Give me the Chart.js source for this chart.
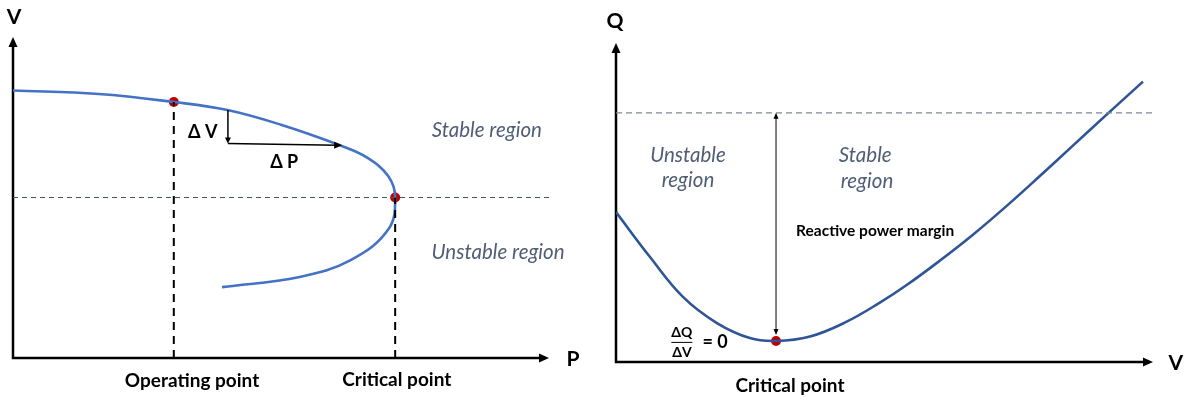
<!DOCTYPE html>
<html>
<head>
<meta charset="utf-8">
<script src="https://cdn.jsdelivr.net/npm/chart.js@4.4.1/dist/chart.umd.min.js"></script>
<style>
  body { margin: 0; background: #fff; width: 1189px; height: 398px; position: relative; overflow: hidden; }
  canvas { position: absolute; top: 0; }
  #pvChart { left: 0; }
  #qvChart { left: 590px; }
</style>
</head>
<body>
<canvas id="pvChart" width="595" height="398"></canvas>
<canvas id="qvChart" width="599" height="398"></canvas>
<script>
// P-V nose curve (left), arbitrary units
const pvP = [0, 1.6, 3.0, 4.0, 5.0, 6.1, 6.6, 7.0, 7.13, 7.0, 6.3, 5.35, 3.9];
const pvV = [1.0, 0.987, 0.957, 0.927, 0.872, 0.795, 0.75, 0.68, 0.6, 0.48, 0.366, 0.303, 0.265];
const pvMarkP = [3.0, 7.13];   // operating point, critical point
const pvMarkV = [0.957, 0.6];

// Q-V curve (right)
const qvV = [0, 0.095, 0.187, 0.282, 0.374, 0.447, 0.542, 0.640, 0.737, 0.813, 0.905, 0.997, 1.089, 1.184, 1.277, 1.372, 1.472];
const qvQ = [0.47, 0.329, 0.204, 0.122, 0.075, 0.066, 0.080, 0.124, 0.186, 0.242, 0.318, 0.399, 0.487, 0.583, 0.679, 0.777, 0.879];
const qvMarkV = [0.447];
const qvMarkQ = [0.066];
const qvLimitQ = 0.781;   // dashed level / top of margin arrow

const toXY = (xs, ys) => xs.map((x, i) => ({ x: x, y: ys[i] }));

function arrowHead(ctx, x, y, angle, len, half) {
    ctx.save();
    ctx.translate(x, y);
    ctx.rotate(angle);
    ctx.beginPath();
    ctx.moveTo(0, 0);
    ctx.lineTo(-len, -half);
    ctx.lineTo(-len, half);
    ctx.closePath();
    ctx.fill();
    ctx.restore();
}

function text(ctx, str, x, y, font, color, align) {
    ctx.font = font;
    ctx.fillStyle = color || '#000';
    ctx.textAlign = align || 'center';
    ctx.textBaseline = 'middle';
    ctx.fillText(str, x, y);
}

function drawAxes(chart, lw) {
    const ctx = chart.ctx, a = chart.chartArea;
    ctx.save();
    ctx.strokeStyle = '#000';
    ctx.fillStyle = '#000';
    ctx.lineWidth = lw;
    ctx.beginPath();
    ctx.moveTo(a.left, a.bottom);
    ctx.lineTo(a.left, a.top + 8);
    ctx.moveTo(a.left - lw / 2, a.bottom);
    ctx.lineTo(a.right - 8, a.bottom);
    ctx.stroke();
    arrowHead(ctx, a.left, a.top, -Math.PI / 2, 10, 4.5);
    arrowHead(ctx, a.right, a.bottom, 0, 10, 4.5);
    ctx.restore();
}

const boldFont = 'bold 19px Lato, "Open Sans", sans-serif';
const axisFont = 'bold 21px Lato, "Open Sans", sans-serif';
const italicFont = 'italic 20.5px Lato, "Open Sans", sans-serif';
const deltaFont = 'bold 18px Lato, "Open Sans", sans-serif';
const regionColor = '#4F5D75';

// ---------- left: P-V ----------
const pvExtras = {
    id: 'pvExtras',
    beforeDatasetsDraw(chart) {
        drawAxes(chart, 2.5);
    },
    afterDatasetsDraw(chart) {
        const ctx = chart.ctx;
        const px = v => chart.scales.x.getPixelForValue(v);
        const py = v => chart.scales.y.getPixelForValue(v);
        ctx.save();
        // delta V / delta P construction
        ctx.strokeStyle = '#000';
        ctx.fillStyle = '#000';
        ctx.lineWidth = 1.5;
        ctx.beginPath();
        ctx.moveTo(px(4.01), py(0.927));
        ctx.lineTo(px(4.01), py(0.81));
        ctx.moveTo(px(4.01), py(0.802));
        ctx.lineTo(px(6.05), py(0.795));
        ctx.stroke();
        arrowHead(ctx, px(4.01), py(0.802), Math.PI / 2, 6, 3);
        arrowHead(ctx, px(6.14), py(0.795), 0, 8, 3.5);
        text(ctx, '\u0394 V', px(3.54), py(0.845), deltaFont);
        text(ctx, '\u0394 P', px(5.06), py(0.733), deltaFont);

        text(ctx, 'Stable region', px(8.84), py(0.852), italicFont, regionColor);
        text(ctx, 'Unstable region', px(9.05), py(0.396), italicFont, regionColor);
        text(ctx, 'Operating point', px(3.34), py(-0.086), boldFont);
        text(ctx, 'Critical point', px(7.16), py(-0.082), boldFont);
        text(ctx, 'V', px(0.02), py(1.275), axisFont);
        text(ctx, 'P', px(10.45), py(-0.004), axisFont);
        ctx.restore();
    }
};

new Chart(document.getElementById('pvChart'), {
    type: 'scatter',
    data: {
        datasets: [
            { // dashed level through critical point
                data: toXY([0, 10], [pvMarkV[1], pvMarkV[1]]),
                showLine: true, borderColor: '#44546A', borderWidth: 1.2, borderDash: [5, 4],
                pointRadius: 0
            },
            { // drop lines
                data: toXY([pvMarkP[0], pvMarkP[0]], [0, pvMarkV[0]]),
                showLine: true, borderColor: '#000', borderWidth: 2, borderDash: [8, 6],
                pointRadius: 0
            },
            {
                data: toXY([pvMarkP[1], pvMarkP[1]], [0, pvMarkV[1]]),
                showLine: true, borderColor: '#000', borderWidth: 2, borderDash: [8, 6],
                pointRadius: 0
            },
            { // nose curve
                data: toXY(pvP, pvV),
                showLine: true, borderColor: '#4472C4', borderWidth: 2.6, tension: 0.4,
                pointRadius: 0
            },
            {
                data: toXY(pvMarkP, pvMarkV),
                pointRadius: 5, pointBackgroundColor: '#C00000', pointBorderColor: '#C00000',
                pointBorderWidth: 0
            }
        ]
    },
    options: {
        responsive: false,
        animation: false,
        layout: { padding: { left: 13, right: 46, top: 37, bottom: 40 } },
        scales: {
            x: { type: 'linear', min: 0, max: 10, display: false },
            y: { type: 'linear', min: 0, max: 1.2, display: false }
        },
        plugins: { legend: { display: false }, tooltip: { enabled: false } }
    },
    plugins: [pvExtras]
});

// ---------- right: Q-V ----------
const qvExtras = {
    id: 'qvExtras',
    beforeDatasetsDraw(chart) {
        drawAxes(chart, 2.5);
    },
    afterDatasetsDraw(chart) {
        const ctx = chart.ctx;
        const px = v => chart.scales.x.getPixelForValue(v);
        const py = v => chart.scales.y.getPixelForValue(v);
        ctx.save();
        // reactive power margin arrow
        ctx.strokeStyle = '#000';
        ctx.fillStyle = '#000';
        ctx.lineWidth = 1;
        const ax = px(qvMarkV[0]);
        const top = py(qvLimitQ), bot = py(qvMarkQ[0]) - 6;
        ctx.beginPath();
        ctx.moveTo(ax, top + 5);
        ctx.lineTo(ax, bot - 5);
        ctx.stroke();
        arrowHead(ctx, ax, top, -Math.PI / 2, 6, 2.5);
        arrowHead(ctx, ax, bot, Math.PI / 2, 6, 2.5);

        text(ctx, 'Unstable', px(0.201), py(0.647), italicFont, regionColor);
        text(ctx, 'region', px(0.201), py(0.569), italicFont, regionColor);
        text(ctx, 'Stable', px(0.696), py(0.649), italicFont, regionColor);
        text(ctx, 'region', px(0.701), py(0.567), italicFont, regionColor);
        text(ctx, 'Reactive power margin', px(0.503), py(0.411), 'bold 15.5px Lato, "Open Sans", sans-serif', '#000', 'left');
        text(ctx, 'Critical point', px(0.486), py(-0.075), boldFont);
        text(ctx, 'Q', px(-0.003), py(1.069), axisFont);
        text(ctx, 'V', px(1.564), py(-0.003), axisFont);

        // dQ/dV = 0
        const fx = px(0.184), fy = py(0.063);
        text(ctx, '\u0394Q', fx, fy - 9, 'bold 14px Lato, "Open Sans", sans-serif');
        text(ctx, '\u0394V', fx, fy + 11, 'bold 14px Lato, "Open Sans", sans-serif');
        ctx.lineWidth = 1;
        ctx.beginPath();
        ctx.moveTo(fx - 10.5, fy + 0.5);
        ctx.lineTo(fx + 10.5, fy + 0.5);
        ctx.stroke();
        text(ctx, '= 0', px(0.277), fy, 'bold 18px Lato, "Open Sans", sans-serif');
        ctx.restore();
    }
};

new Chart(document.getElementById('qvChart'), {
    type: 'scatter',
    data: {
        datasets: [
            {
                data: toXY([0, 1.5], [qvLimitQ, qvLimitQ]),
                showLine: true, borderColor: '#7F8899', borderWidth: 1.2, borderDash: [6, 4],
                pointRadius: 0
            },
            {
                data: toXY(qvV, qvQ),
                showLine: true, borderColor: '#2F5597', borderWidth: 2.6, tension: 0.4,
                pointRadius: 0
            },
            {
                data: toXY(qvMarkV, qvMarkQ),
                pointRadius: 5, pointBackgroundColor: '#C00000', pointBorderColor: '#C00000',
                pointBorderWidth: 0
            }
        ]
    },
    options: {
        responsive: false,
        animation: false,
        layout: { padding: { left: 26, right: 36, top: 43, bottom: 36 } },
        scales: {
            x: { type: 'linear', min: 0, max: 1.5, display: false },
            y: { type: 'linear', min: 0, max: 1, display: false }
        },
        plugins: { legend: { display: false }, tooltip: { enabled: false } }
    },
    plugins: [qvExtras]
});
</script>
</body>
</html>
